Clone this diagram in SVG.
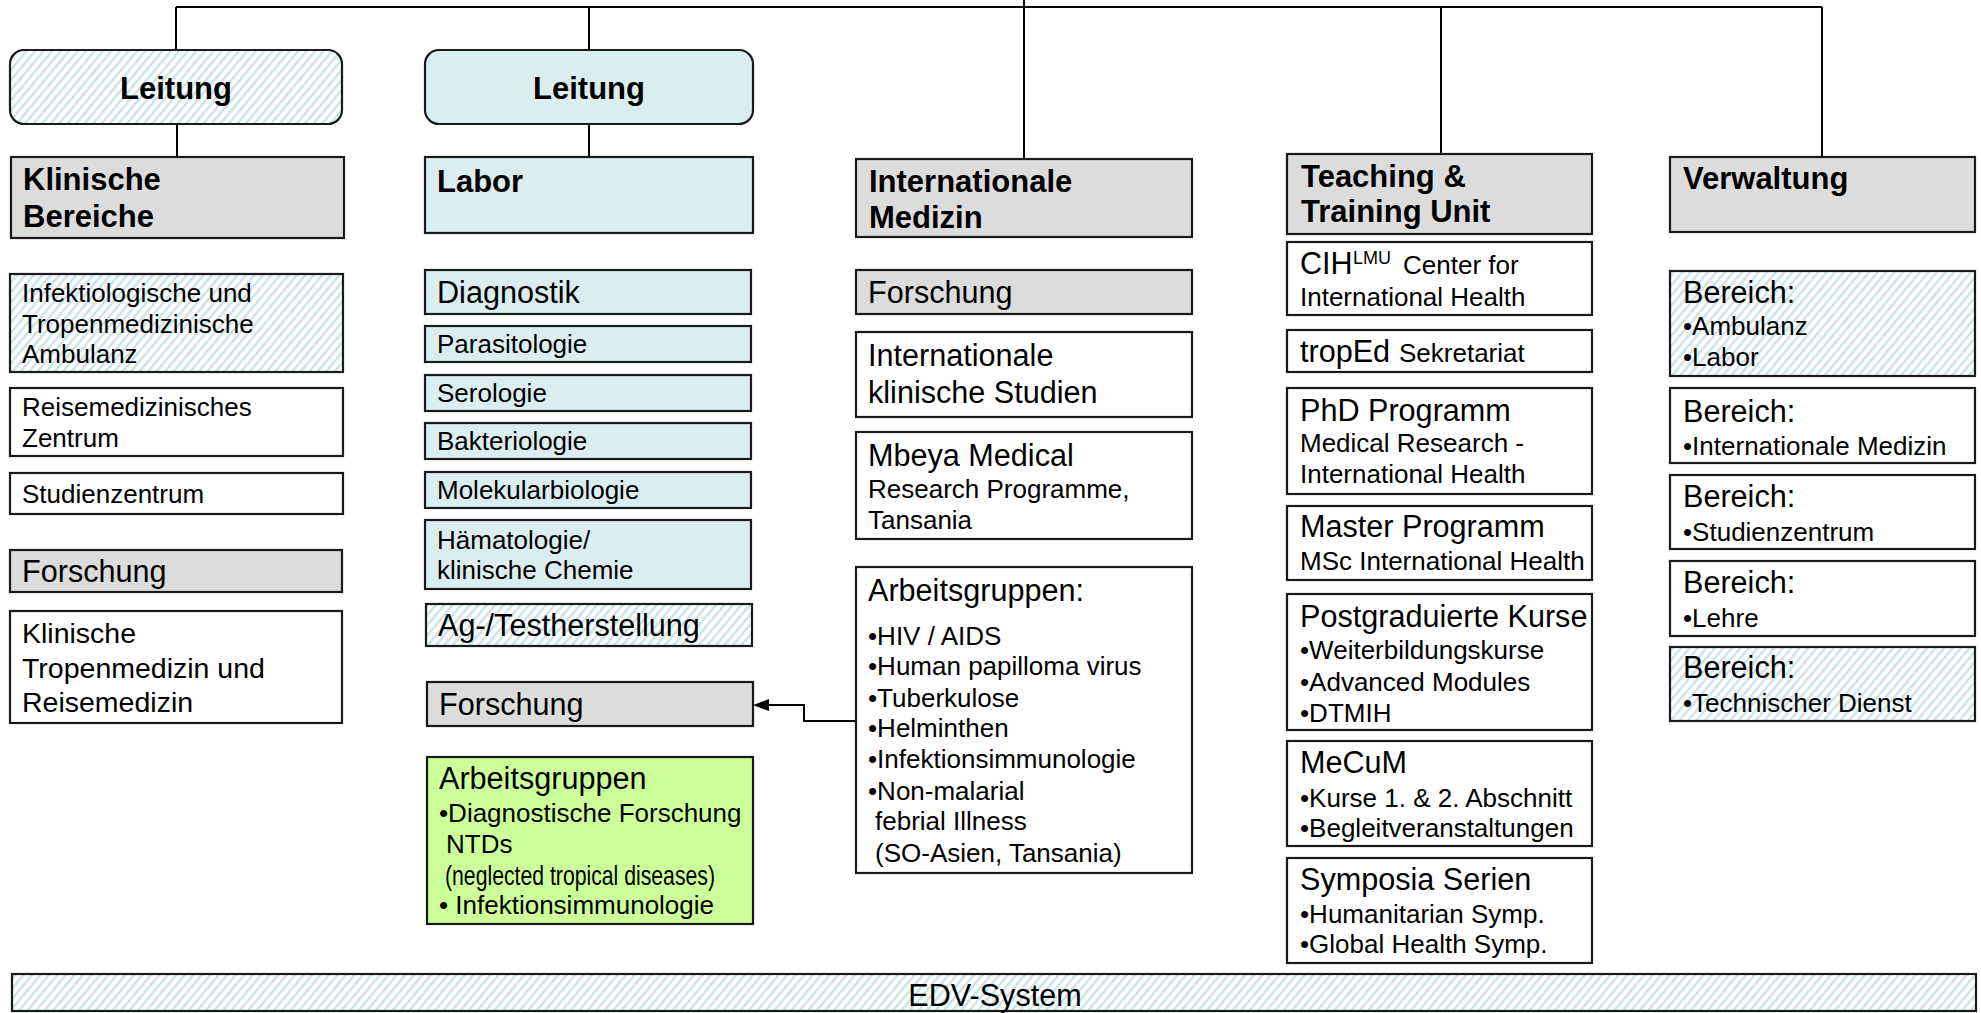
<svg xmlns="http://www.w3.org/2000/svg" width="1981" height="1013" viewBox="0 0 1981 1013">
<style>
.box{stroke:#1a1a1a;stroke-width:2.2}
.grey{fill:#dcdcdc}
.blue{fill:#daedef}
.white{fill:#ffffff}
.hatch{fill:url(#hatch)}
.green{fill:#ccff99}
text{font-family:"Liberation Sans",Arial,sans-serif;fill:#000}
.b{font-weight:bold;font-size:31px}
.l{font-size:30.6px}
.s{font-size:26px}
.m{font-size:28.5px}
.conn{stroke:#000;stroke-width:2;fill:none}
</style>
<defs>
<pattern id="hatch" width="6.5" height="6.5" patternUnits="userSpaceOnUse" patternTransform="rotate(40)">
<rect width="6.5" height="6.5" fill="#ffffff"/>
<rect width="2.4" height="6.5" fill="#c9e4e7"/>
</pattern>
</defs>
<rect width="1981" height="1013" fill="#ffffff"/>

<g id="connectors">
<path class="conn" d="M176,7 H1822" stroke-width="2.5"/>
<path class="conn" d="M176,7 V50"/>
<path class="conn" d="M177,124 V157"/>
<path class="conn" d="M589,7 V50"/>
<path class="conn" d="M589,124 V157"/>
<path class="conn" d="M1024,0 V159"/>
<path class="conn" d="M1441,7 V154"/>
<path class="conn" d="M1822,7 V157"/>
<path class="conn" d="M856,721 H804 V705 H766"/>
<path d="M753,705 L769,699 L769,711 Z" fill="#000"/>
</g>

<g id="leitung-klinik">
<rect x="10" y="50" width="332" height="74" rx="14" class="box hatch"/>
<text x="176" y="99" class="b" text-anchor="middle">Leitung</text>
</g>
<g id="klinische-bereiche">
<rect x="11" y="157" width="333" height="81" class="box grey"/>
<text x="23" y="190" class="b">Klinische</text>
<text x="23" y="227" class="b">Bereiche</text>
</g>
<g id="ambulanz">
<rect x="10" y="274" width="333" height="98" class="box hatch"/>
<text x="22" y="302" class="s">Infektiologische und</text>
<text x="22" y="333" class="s">Tropenmedizinische</text>
<text x="22" y="363" class="s">Ambulanz</text>
</g>
<g id="reisemedizinisches-zentrum">
<rect x="10" y="388" width="333" height="68" class="box white"/>
<text x="22" y="416" class="s">Reisemedizinisches</text>
<text x="22" y="447" class="s">Zentrum</text>
</g>
<g id="studienzentrum">
<rect x="10" y="473" width="333" height="41" class="box white"/>
<text x="22" y="503" class="s">Studienzentrum</text>
</g>
<g id="forschung-klinik">
<rect x="10" y="550" width="332" height="42" class="box grey"/>
<text x="22" y="582" class="l">Forschung</text>
</g>
<g id="klinische-tropenmedizin">
<rect x="10" y="611" width="332" height="112" class="box white"/>
<text x="22" y="643" class="m">Klinische</text>
<text x="22" y="678" class="m">Tropenmedizin und</text>
<text x="22" y="712" class="m">Reisemedizin</text>
</g>

<g id="leitung-labor">
<rect x="425" y="50" width="328" height="74" rx="14" class="box blue"/>
<text x="589" y="99" class="b" text-anchor="middle">Leitung</text>
</g>
<g id="labor">
<rect x="425" y="157" width="328" height="76" class="box blue"/>
<text x="437" y="192" class="b">Labor</text>
</g>
<g id="diagnostik">
<rect x="425" y="270" width="326" height="44" class="box blue"/>
<text x="437" y="303" class="l">Diagnostik</text>
</g>
<g id="parasitologie">
<rect x="425" y="326" width="326" height="36" class="box blue"/>
<text x="437" y="353" class="s">Parasitologie</text>
</g>
<g id="serologie">
<rect x="425" y="375" width="326" height="36" class="box blue"/>
<text x="437" y="402" class="s">Serologie</text>
</g>
<g id="bakteriologie">
<rect x="425" y="423" width="326" height="36" class="box blue"/>
<text x="437" y="450" class="s">Bakteriologie</text>
</g>
<g id="molekularbiologie">
<rect x="425" y="472" width="326" height="36" class="box blue"/>
<text x="437" y="499" class="s">Molekularbiologie</text>
</g>
<g id="haematologie">
<rect x="425" y="520" width="326" height="69" class="box blue"/>
<text x="437" y="549" class="s">Hämatologie/</text>
<text x="437" y="579" class="s">klinische Chemie</text>
</g>
<g id="testherstellung">
<rect x="426" y="604" width="326" height="42" class="box hatch"/>
<text x="438" y="636" class="l">Ag-/Testherstellung</text>
</g>
<g id="forschung-labor">
<rect x="427" y="682" width="326" height="44" class="box grey"/>
<text x="439" y="715" class="l">Forschung</text>
</g>
<g id="arbeitsgruppen-labor">
<rect x="427" y="757" width="326" height="167" class="box green"/>
<text x="439" y="789" class="l">Arbeitsgruppen</text>
<text x="439" y="822" class="s">•Diagnostische Forschung</text>
<text x="446" y="853" class="s">NTDs</text>
<text x="445" y="885" font-size="27.5" textLength="270" lengthAdjust="spacingAndGlyphs">(neglected tropical diseases)</text>
<text x="439" y="914" class="s">• Infektionsimmunologie</text>
</g>

<g id="internationale-medizin">
<rect x="856" y="159" width="336" height="78" class="box grey"/>
<text x="869" y="192" class="b">Internationale</text>
<text x="869" y="228" class="b">Medizin</text>
</g>
<g id="forschung-intmed">
<rect x="856" y="270" width="336" height="44" class="box grey"/>
<text x="868" y="303" class="l">Forschung</text>
</g>
<g id="klinische-studien">
<rect x="856" y="332" width="336" height="85" class="box white"/>
<text x="868" y="366" class="l">Internationale</text>
<text x="868" y="403" class="l">klinische Studien</text>
</g>
<g id="mbeya">
<rect x="856" y="432" width="336" height="107" class="box white"/>
<text x="868" y="466" class="l">Mbeya Medical</text>
<text x="868" y="498" class="s">Research Programme,</text>
<text x="868" y="529" class="s">Tansania</text>
</g>
<g id="arbeitsgruppen-intmed">
<rect x="856" y="567" width="336" height="306" class="box white"/>
<text x="868" y="601" class="l">Arbeitsgruppen:</text>
<text x="868" y="645" class="s">•HIV / AIDS</text>
<text x="868" y="675" class="s">•Human papilloma virus</text>
<text x="868" y="707" class="s">•Tuberkulose</text>
<text x="868" y="737" class="s">•Helminthen</text>
<text x="868" y="768" class="s">•Infektionsimmunologie</text>
<text x="868" y="800" class="s">•Non-malarial</text>
<text x="875" y="830" class="s">febrial Illness</text>
<text x="875" y="862" class="s">(SO-Asien, Tansania)</text>
</g>

<g id="teaching">
<rect x="1287" y="154" width="305" height="80" class="box grey"/>
<text x="1301" y="187" class="b">Teaching &amp;</text>
<text x="1301" y="222" class="b">Training Unit</text>
</g>
<g id="cih">
<rect x="1287" y="242" width="305" height="73" class="box white"/>
<text x="1300" y="274" class="l">CIH</text>
<text x="1353" y="264" font-size="18">LMU</text>
<text x="1403" y="274" class="s">Center for</text>
<text x="1300" y="306" class="s">International Health</text>
</g>
<g id="troped">
<rect x="1287" y="330" width="305" height="42" class="box white"/>
<text x="1300" y="362" class="l">tropEd</text>
<text x="1399" y="362" class="s">Sekretariat</text>
</g>
<g id="phd">
<rect x="1287" y="388" width="305" height="106" class="box white"/>
<text x="1300" y="421" class="l">PhD Programm</text>
<text x="1300" y="452" class="s">Medical Research -</text>
<text x="1300" y="483" class="s">International Health</text>
</g>
<g id="master">
<rect x="1287" y="506" width="305" height="74" class="box white"/>
<text x="1300" y="537" class="l">Master Programm</text>
<text x="1300" y="570" class="s">MSc International Health</text>
</g>
<g id="postgraduierte">
<rect x="1287" y="594" width="305" height="136" class="box white"/>
<text x="1300" y="627" class="l">Postgraduierte Kurse</text>
<text x="1300" y="659" class="s">•Weiterbildungskurse</text>
<text x="1300" y="691" class="s">•Advanced Modules</text>
<text x="1300" y="722" class="s">•DTMIH</text>
</g>
<g id="mecum">
<rect x="1287" y="741" width="305" height="105" class="box white"/>
<text x="1300" y="773" class="l">MeCuM</text>
<text x="1300" y="807" class="s">•Kurse 1. &amp; 2. Abschnitt</text>
<text x="1300" y="837" class="s">•Begleitveranstaltungen</text>
</g>
<g id="symposia">
<rect x="1287" y="858" width="305" height="105" class="box white"/>
<text x="1300" y="890" class="l">Symposia Serien</text>
<text x="1300" y="923" class="s">•Humanitarian Symp.</text>
<text x="1300" y="953" class="s">•Global Health Symp.</text>
</g>

<g id="verwaltung">
<rect x="1670" y="157" width="305" height="75" class="box grey"/>
<text x="1683" y="189" class="b">Verwaltung</text>
</g>
<g id="bereich-ambulanz">
<rect x="1670" y="271" width="305" height="105" class="box hatch"/>
<text x="1683" y="303" class="l">Bereich:</text>
<text x="1683" y="335" class="s">•Ambulanz</text>
<text x="1683" y="366" class="s">•Labor</text>
</g>
<g id="bereich-intmed">
<rect x="1670" y="388" width="305" height="75" class="box white"/>
<text x="1683" y="422" class="l">Bereich:</text>
<text x="1683" y="455" class="s">•Internationale Medizin</text>
</g>
<g id="bereich-studienzentrum">
<rect x="1670" y="475" width="305" height="74" class="box white"/>
<text x="1683" y="507" class="l">Bereich:</text>
<text x="1683" y="541" class="s">•Studienzentrum</text>
</g>
<g id="bereich-lehre">
<rect x="1670" y="561" width="305" height="75" class="box white"/>
<text x="1683" y="593" class="l">Bereich:</text>
<text x="1683" y="627" class="s">•Lehre</text>
</g>
<g id="bereich-technik">
<rect x="1670" y="647" width="305" height="74" class="box hatch"/>
<text x="1683" y="678" class="l">Bereich:</text>
<text x="1683" y="712" class="s">•Technischer Dienst</text>
</g>

<g id="edv">
<rect x="12" y="974" width="1964" height="37" class="box hatch"/>
<text x="995" y="1006" class="l" text-anchor="middle">EDV-System</text>
</g>
</svg>
